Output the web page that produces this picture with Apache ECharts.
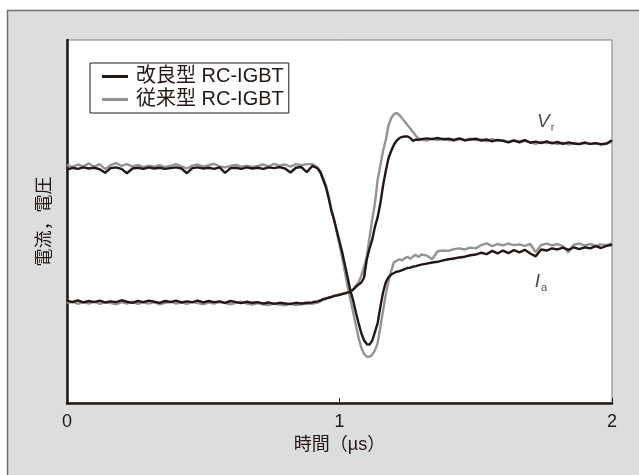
<!DOCTYPE html>
<html><head><meta charset="utf-8">
<script src="https://cdn.jsdelivr.net/npm/echarts@6/dist/echarts.min.js"></script>
<style>html,body{margin:0;padding:0;background:#fff}#c{width:639px;height:475px}</style>
</head><body><div id="c"></div>
<script>
// time axis (µs)
const time = [
 0,0.02,0.04,0.06,0.08,0.10,0.12,0.14,0.16,0.18,0.20,0.22,0.24,0.26,0.28,0.30,0.32,0.34,0.36,0.38,
 0.40,0.42,0.44,0.46,0.48,0.50,0.52,0.54,0.56,0.58,0.60,0.62,0.64,0.66,0.68,0.70,0.72,0.74,0.76,0.78,
 0.80,0.82,0.84,0.86,0.88,
 0.90,0.91,0.92,0.93,0.94,0.95,0.96,0.97,0.98,0.99,1.00,1.01,1.02,1.03,1.04,1.05,1.06,1.07,1.08,1.09,
 1.10,1.11,1.12,1.13,1.14,1.15,1.16,1.17,1.18,1.19,1.20,1.21,1.22,1.23,1.24,1.25,1.26,1.27,1.28,1.29,1.30,
 1.32,1.34,1.36,1.38,1.40,1.42,1.44,1.46,1.48,1.50,1.52,1.54,1.56,1.58,1.60,1.62,1.64,1.66,1.68,1.70,
 1.72,1.74,1.76,1.78,1.80,1.82,1.84,1.86,1.88,1.90,1.92,1.94,1.96,1.98,2.00
];
// 改良型 RC-IGBT : current Ia
const kairyoIa = [
 64.3,64.8,64.5,64.9,64.6,64.8,64.4,63.4,64.7,64.9,
 64.5,63.3,64.6,64.8,64.5,64.9,64.6,64.8,64.5,64.7,
 64.9,64.6,63.3,64.7,64.9,64.6,64.8,64.5,64.9,63.4,
 64.7,64.8,64.5,64.9,64.6,64.8,64.5,64.9,64.7,65.0,
 64.6,63.5,64.8,65.0,63.6,
 65.3,65.0,64.6,63.5,61.5,59.5,56.5,53,50.5,47.5,
 44.5,41.5,38,34.5,31,28.3,25,22,19.2,17.3,
 16.2,16.1,17.2,19.5,22,26.5,30.5,33.3,34.7,35.4,
 35.8,36.2,36.3,36.6,36.9,37.2,37.3,37.6,37.7,37.9,38.1,
 38.4,38.7,38.9,39.3,39.6,39.8,40.1,40.3,40.7,40.9,
 41.4,41.0,41.9,41.2,42.0,41.3,42.1,41.5,42.2,41.2,
 40.4,42.3,42.0,42.6,42.3,42.8,42.2,42.9,42.4,42.9,
 42.6,43.2,42.7,43.3,43.6
];
// 改良型 RC-IGBT : voltage Vr
const kairyoVr = [
 28.2,27.8,28.3,27.7,28.1,27.8,28.2,27.7,28.0,27.8,
 28.3,27.9,27.6,28.1,27.8,28.2,27.9,27.6,28.1,27.8,
 28.2,27.7,28.0,27.8,28.2,27.7,28.1,27.8,28.0,27.6,
 28.1,27.8,27.5,27.9,27.6,27.8,27.4,27.7,27.3,27.6,
 27.4,27.3,27.6,27.4,27.6,
 27.7,27.9,28.0,28.3,28.6,28.8,29.0,29.2,29.5,29.6,
 29.8,30.0,30.2,30.4,30.6,31.2,32.0,32.6,33.2,34.5,
 39.5,42.5,45.0,48.5,51.2,55,60,64,67.5,69.5,
 71.2,72.3,73.0,73.3,73.4,73.4,73.0,72.2,72.6,72.5,72.7,
 72.9,72.7,73.0,72.6,72.8,72.5,72.9,72.4,72.6,72.8,
 72.3,72.6,72.1,72.5,72.2,71.8,72.3,71.9,72.4,71.7,
 72.0,71.6,72.1,71.5,71.9,71.4,71.8,71.5,71.3,71.7,
 71.4,71.6,71.3,71.5,72.4
];
// 従来型 RC-IGBT : current Ia
const juraiIa = [
 65.6,65.0,65.7,65.2,66.0,65.1,65.8,64.4,65.5,66.1,
 65.3,65.8,65.2,65.6,65.0,65.4,65.1,65.5,65.0,65.3,
 65.8,65.2,64.6,65.4,65.7,65.1,65.5,65.9,65.2,64.9,
 65.3,65.6,65.1,65.4,65.0,65.3,65.7,65.2,65.9,65.4,
 65.7,65.1,65.8,65.5,65.8,
 65.8,65.4,64.8,63.8,62,60,57,53.5,50.5,47,
 43.5,40,36,32,28.5,25,21.5,18,15.2,13.5,
 12.8,12.7,13.3,14.5,16.5,21,25.5,30,33.5,36.5,
 38.8,39.2,39.6,39.3,39.9,40.3,39.7,40.4,40.8,40.2,40.9,
 40.6,39.6,41.8,42.0,41.9,42.4,42.6,42.3,42.8,42.6,
 43.5,44.0,43.2,43.8,43.4,43.9,43.5,43.7,43.3,43.8,
 41.6,43.5,43.9,43.4,43.8,43.2,41.5,43.6,43.9,43.4,
 43.8,43.3,43.7,43.5,44.0
];
// 従来型 RC-IGBT : voltage Vr
const juraiVr = [
 27.5,27.9,27.3,27.8,27.4,27.9,27.3,27.8,27.5,27.2,
 27.8,27.4,27.9,27.3,27.7,27.4,27.8,27.2,27.6,27.9,
 27.4,27.7,27.3,27.8,27.5,27.2,27.7,27.4,27.8,27.5,
 27.2,27.6,27.9,27.4,27.1,27.5,27.2,27.0,27.4,27.1,
 26.9,27.3,27.0,27.2,27.4,
 27.3,27.5,27.6,28.0,28.4,28.7,29.0,29.2,29.4,29.7,
 29.9,30.1,30.3,30.5,30.7,31.3,32.3,33.3,35,37.5,
 40.3,45.5,50.5,55,61.5,65.5,69.5,72.5,76.5,78.5,
 79.6,79.9,79.3,78.4,77.5,76.5,75.6,74.6,73.6,72.9,72.5,
 72.3,72.8,72.4,72.9,72.5,72.2,72.7,72.3,72.8,72.4,
 72.6,72.1,72.7,72.2,72.4,71.9,72.5,71.7,72.2,71.9,
 71.4,72.0,71.6,71.8,71.3,71.7,71.2,71.6,71.4,71.8,
 71.3,71.5,71.1,71.4,72.0
];
const xTicks = [0, 1, 2];
const seriesNames = ['改良型 RC-IGBT', '従来型 RC-IGBT'];
const curveLabels = [
  {name: 'Vr', t: 1.757, v: 77.4, main: 'V', sub: 'r'},
  {name: 'Ia', t: 1.739, v: 33.3, main: 'I', sub: 'a'}
];

const DARK = '#231815', GRAY = '#939393';
const FONT = '"Liberation Sans", "Noto Sans CJK JP", sans-serif';
const pair = vals => time.map((t, i) => [t, vals[i]]);
const lineS = (name, vals, color, z) => ({
  type: 'line', name, data: pair(vals), showSymbol: false, symbol: 'none',
  lineStyle: {color, width: 2.4}, itemStyle: {color}, z, silent: true
});

const chart = echarts.init(document.getElementById('c'), null, {renderer: 'canvas'});
chart.setOption({
  animation: false,
  backgroundColor: '#dcdddd',
  textStyle: {fontFamily: FONT},
  graphic: [
    {type: 'rect', shape: {x: 0, y: 0, width: 639, height: 10}, style: {fill: '#fff'}, silent: true},
    {type: 'rect', shape: {x: 0, y: 0, width: 7, height: 475}, style: {fill: '#fff'}, silent: true},
    {type: 'polyline', shape: {points: [[7.5, 475], [7.5, 10.5], [639, 10.5]]},
     style: {stroke: '#6e6e6e', lineWidth: 1.5, fill: null}, silent: true}
  ],
  grid: {left: 67, right: 27, top: 40, bottom: 72, show: true, backgroundColor: '#fff',
         borderColor: '#7d7d7d', borderWidth: 1},
  legend: {
    data: seriesNames, orient: 'vertical', left: 90, top: 63,
    backgroundColor: '#fff', borderColor: DARK, borderWidth: 1, borderRadius: 0,
    padding: [3, 5, 3, 12], itemGap: 2, itemWidth: 26, itemHeight: 3, icon: 'rect',
    selectedMode: false,
    textStyle: {fontSize: 20, color: DARK, fontFamily: FONT, lineHeight: 21, padding: [0, 0, 0, 3]}
  },
  xAxis: {
    type: 'value', min: 0, max: 2, interval: 1,
    name: '時間（µs）', nameLocation: 'middle', nameGap: 30,
    nameTextStyle: {fontSize: 18, color: DARK, fontFamily: FONT},
    axisLine: {show: true, onZero: false, lineStyle: {color: DARK, width: 2.5}},
    axisTick: {show: true, inside: true, length: 5, lineStyle: {color: DARK, width: 1}},
    axisLabel: {fontSize: 18, color: DARK, margin: 10, fontFamily: FONT,
                formatter: v => xTicks.includes(v) ? String(v) : ''},
    splitLine: {show: false}
  },
  yAxis: {
    type: 'value', min: 0, max: 100,
    name: '電流，電圧', nameLocation: 'middle', nameGap: 13, nameRotate: 90,
    nameTextStyle: {fontSize: 18, color: DARK, fontFamily: FONT},
    axisLine: {show: true, onZero: false, lineStyle: {color: DARK, width: 2.5}},
    axisTick: {show: false}, axisLabel: {show: false}, splitLine: {show: false}
  },
  series: [
    lineS(seriesNames[1], juraiIa, GRAY, 2),
    lineS(seriesNames[1], juraiVr, GRAY, 2),
    lineS(seriesNames[0], kairyoIa, DARK, 3),
    lineS(seriesNames[0], kairyoVr, DARK, 3),
    {
      type: 'scatter', name: 'labels', symbolSize: 0, silent: true, z: 5,
      data: curveLabels.map(c => ({value: [c.t, c.v], main: c.main, sub: c.sub})),
      label: {
        show: true, position: 'inside',
        formatter: p => '{m|' + p.data.main + '}{s|' + p.data.sub + '}',
        rich: {
          m: {fontSize: 19, fontStyle: 'italic', color: DARK, fontFamily: FONT, lineHeight: 22},
          s: {fontSize: 11, color: DARK, fontFamily: FONT, lineHeight: 22, verticalAlign: 'bottom', padding: [6, 0, 0, 1]}
        }
      }
    }
  ]
});
</script></body></html>
